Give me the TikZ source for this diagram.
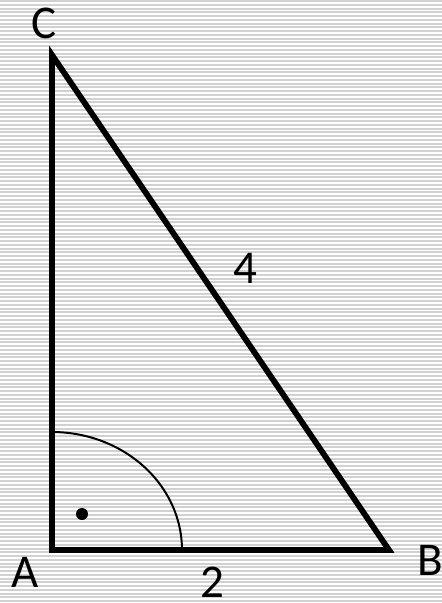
\documentclass[tikz,border=0pt]{standalone}
\usepackage{fontspec}
\setmainfont{Carlito}
\begin{document}
\begin{tikzpicture}[x=1pt,y=-1pt,
  lbl/.style={inner sep=0pt,font=\fontsize{47}{52}\selectfont},
  side/.style={line width=5.8pt,line join=miter},
  stripe/.style={fill=black!18}]
\useasboundingbox (0,0) rectangle (442,603);
\fill[white] (0,0) rectangle (442,603);
\foreach \i in {0,...,161} {
  \fill[stripe] (0,{\i*3.75}) rectangle (442,{\i*3.75+2});
}
\coordinate (A) at (52,550);
\coordinate (B) at (389,550);
\coordinate (C) at (52,55);
\draw[side] (A) -- (B) -- (C) -- cycle;
\draw[line width=2pt] plot[domain=0:90,samples=60] ({52+130*cos(\x)},{550-118*sin(\x)});
\fill (82,514) circle (6pt);
\node[lbl] (lc) at (44,23) {C};
\node[lbl] (la) at (25,572) {A};
\node[lbl] (lb) at (430,560) {B};
\node[lbl] (l2) at (212,582) {2};
\node[lbl] (l4) at (245,268) {4};
\end{tikzpicture}
\end{document}
